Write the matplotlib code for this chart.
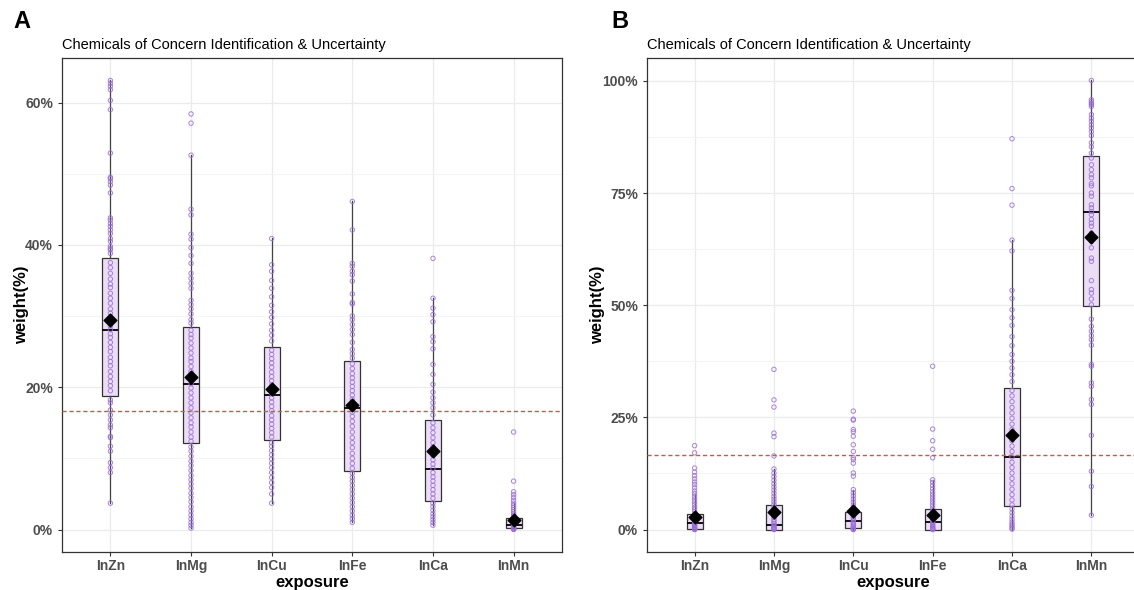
import matplotlib
matplotlib.use('Agg')
import matplotlib.pyplot as plt
from matplotlib.ticker import FuncFormatter, MultipleLocator

plt.rcParams['font.family'] = ['Liberation Sans', 'DejaVu Sans']

exposures = ['InZn', 'InMg', 'InCu', 'InFe', 'InCa', 'InMn']
ref_line = 100 / 6  # equal weight

# ---- panel A: box stats (weight %) ----
a_q1 = [18.8, 12.1, 12.6, 8.2, 4.0, 0.2]
a_med = [28.1, 20.5, 18.9, 17.1, 8.5, 0.7]
a_q3 = [38.2, 28.4, 25.7, 23.7, 15.4, 1.6]
a_wlo = [3.7, 0.2, 3.7, 1.0, 0.6, 0.0]
a_whi = [63.1, 52.6, 40.9, 46.1, 32.5, 3.7]
a_mean = [29.4, 21.4, 19.7, 17.5, 11.0, 1.4]

a_zn = [63.1, 62.7, 62.3, 61.8, 60.3, 59.0, 52.9, 49.5, 49.3, 48.9, 48.4, 47.3, 43.8, 43.5,
        43.0, 42.6, 42.1, 41.6, 40.9, 40.5, 39.8, 39.5, 39.3, 38.8,
        37.5, 36.8, 36.0, 35.2, 34.5, 34.0, 33.2, 32.5, 31.8, 31.0, 30.4, 29.8, 29.2, 28.6,
        28.1, 27.5, 27.0, 26.3, 25.6, 25.0, 24.2, 23.6, 23.0, 22.2, 21.5, 20.8, 20.2, 19.5,
        18.2, 17.8, 16.8, 16.1, 15.4, 14.7, 14.3, 13.1, 12.9, 11.7, 11.0, 9.4, 8.7, 8.0, 3.7]
a_mg = [58.4, 57.1, 52.6, 45.0, 44.2, 41.5, 40.8, 39.6, 38.5, 37.4, 36.0, 35.3, 34.6, 33.9,
        32.2, 31.6, 31.0, 30.3, 29.5, 29.0,
        28.0, 27.4, 26.9, 26.2, 25.5, 24.8, 24.1, 23.6, 22.9, 22.2, 21.6, 21.0, 20.5, 19.9,
        19.2, 18.5, 17.8, 17.1, 16.4, 15.7, 15.0, 14.4, 13.7, 13.0, 12.4,
        11.6, 11.0, 10.3, 9.6, 9.0, 8.3, 7.6, 7.0, 6.4, 5.8, 5.1, 4.5, 3.9, 3.2, 2.6, 2.0,
        1.5, 1.0, 0.6, 0.2]
a_cu = [40.9, 37.2, 36.3, 35.0, 33.9, 32.7, 31.5, 30.6, 29.8, 28.9, 28.0, 27.3, 26.5,
        25.2, 24.6, 24.0, 23.4, 22.8, 22.1, 21.5, 20.9, 20.3, 19.7, 19.1, 18.5, 17.9, 17.3,
        16.7, 16.0, 15.4, 14.8, 14.2, 13.6, 13.0,
        12.2, 11.7, 11.1, 10.5, 9.9, 9.3, 8.7, 8.0, 7.3, 6.6, 5.9, 5.0, 3.7]
a_fe = [46.1, 42.1, 37.4, 37.0, 36.3, 35.8, 34.9, 33.1, 31.9, 31.7, 30.0, 29.5, 28.8, 28.1,
        27.4, 26.3, 25.3, 24.7, 24.1,
        23.3, 22.6, 21.9, 21.3, 20.7, 20.1, 19.5, 18.9, 18.3, 17.7, 17.1, 16.5, 15.9, 15.2,
        14.5, 13.7, 12.9, 12.2, 11.5, 10.7, 10.0, 9.3, 8.6,
        7.9, 7.3, 6.8, 6.2, 5.6, 5.0, 4.4, 3.8, 3.2, 2.6, 2.0, 1.5, 1.0]
a_ca = [38.1, 32.5, 31.1, 30.2, 29.2, 27.1, 26.4, 25.4, 23.2, 21.8, 20.4, 19.3, 18.5, 17.8,
        17.1, 16.1,
        15.0, 14.3, 13.6, 12.9, 12.2, 11.6, 11.0, 10.4, 9.8, 9.2, 8.6, 8.0, 7.4, 6.8, 6.2,
        5.6, 5.0, 4.4,
        3.7, 3.2, 2.7, 2.2, 1.8, 1.4, 1.0, 0.6]
a_mn = [13.7, 6.8, 5.3, 4.9, 4.5, 4.1, 3.7, 3.4, 3.1, 2.8, 2.5, 2.2, 2.0, 1.8, 1.6, 1.4,
        1.2, 1.0, 0.9, 0.8, 0.7, 0.6, 0.5, 0.4, 0.3, 0.2, 0.1, 0.05, 0.0]
a_points = [a_zn, a_mg, a_cu, a_fe, a_ca, a_mn]

# ---- panel B ----
b_q1 = [0.07, 0.0, 0.4, 0.0, 5.3, 49.8]
b_med = [1.4, 1.0, 2.0, 1.6, 16.2, 70.8]
b_q3 = [3.4, 5.5, 4.0, 4.5, 31.6, 83.2]
b_wlo = [0.0, 0.0, 0.0, 0.0, 0.0, 3.2]
b_whi = [8.0, 13.5, 8.9, 11.1, 64.5, 100.1]
b_mean = [2.8, 3.9, 4.2, 3.3, 21.0, 65.3]

b_zn = [18.7, 17.1, 13.7, 12.8, 12.0, 11.3, 10.6, 10.0, 9.3, 8.6, 8.0, 7.4, 6.8, 6.2, 5.6,
        5.0, 4.5, 4.0, 3.5, 3.1, 2.7, 2.3, 2.0, 1.7, 1.4, 1.1, 0.9, 0.7, 0.5, 0.3, 0.2, 0.1,
        0.05, 0.0]
b_mg = [35.7, 28.9, 27.3, 21.5, 20.7, 16.4, 13.5, 12.6, 11.8, 11.0, 10.2, 9.5, 8.8, 8.1,
        7.4, 6.8, 6.2, 5.6, 5.0, 4.4, 3.8, 3.2, 2.7, 2.2, 1.8, 1.4, 1.0, 0.7, 0.5, 0.3, 0.2,
        0.1, 0.0]
b_cu = [26.4, 24.6, 24.4, 22.3, 21.8, 20.8, 18.9, 17.4, 16.0, 15.6, 14.8, 12.6, 11.9, 8.9,
        8.2, 7.5, 6.8, 6.1, 5.5, 4.9, 4.3, 3.7, 3.2, 2.8, 2.4, 2.0, 1.6, 1.3, 1.0, 0.7, 0.4,
        0.2, 0.1, 0.0]
b_fe = [36.4, 22.4, 19.8, 17.9, 16.0, 11.1, 10.5, 9.8, 9.1, 8.4, 7.8, 7.2, 6.6, 6.0, 5.4,
        4.8, 4.2, 3.7, 3.2, 2.7, 2.3, 1.9, 1.6, 1.3, 1.0, 0.7, 0.5, 0.3, 0.2, 0.1, 0.0]
b_ca = [87.1, 76.0, 72.3, 64.5, 62.1, 53.3, 51.5, 49.0, 47.2, 45.5, 43.0, 41.0, 39.0, 37.5,
        36.0, 34.5, 33.0, 31.0, 29.8, 28.5, 27.2, 26.0, 24.8, 23.5, 22.3, 21.0, 19.8, 18.6,
        17.4, 16.2, 15.0, 13.8, 12.6, 11.4, 10.2, 9.0, 7.8, 6.6, 5.5, 4.6, 3.8, 3.0, 2.3,
        1.7, 1.2, 0.8, 0.4, 0.1]
b_mn = [100.1, 95.8, 95.4, 95.0, 94.7, 94.3, 92.5, 91.7, 91.0, 90.2, 89.5, 88.7, 87.8,
        86.2, 85.3, 83.9, 82.8, 81.3, 80.2, 79.1, 78.4, 77.1, 76.6, 75.0, 74.3, 72.4, 71.7,
        70.9, 70.2, 69.1, 68.3, 67.6, 66.1, 64.2, 62.8, 60.5, 59.8, 55.5, 53.5, 52.7, 51.4,
        50.1, 46.9, 45.3, 44.2, 43.2, 42.3, 41.1, 36.8, 36.4, 32.7, 31.9, 29.0, 27.9, 21.0,
        13.0, 9.6, 3.2]
b_points = [b_zn, b_mg, b_cu, b_fe, b_ca, b_mn]

PURPLE = '#9B6FD6'
BOXFILL = '#EBDDF5'
EDGE = '#333333'


def draw_panel(ax, q1, med, q3, wlo, whi, mean, points, ylim, ystep, ylab_x):
    pos = list(range(1, len(exposures) + 1))
    stats = []
    for i in range(len(exposures)):
        stats.append({'q1': q1[i], 'med': med[i], 'q3': q3[i],
                      'whislo': wlo[i], 'whishi': whi[i], 'fliers': []})
    ax.bxp(stats, positions=pos, widths=0.2, patch_artist=True, showcaps=False,
           showfliers=False,
           boxprops=dict(facecolor=BOXFILL, edgecolor=EDGE, linewidth=0.9),
           whiskerprops=dict(color='#444444', linewidth=0.9),
           medianprops=dict(color='black', linewidth=1.3),
           zorder=2)
    for p, vals in zip(pos, points):
        ax.scatter([p] * len(vals), vals, s=10, facecolors='none', edgecolors=PURPLE,
                   linewidths=0.7, alpha=0.85, zorder=3)
    ax.scatter(pos, mean, marker='D', s=42, color='black', zorder=4)
    ax.axhline(ref_line, color='#C55A55', linestyle=(0, (3, 2)), linewidth=1.0, zorder=3)

    ax.set_xlim(0.4, 6.6)
    ax.set_ylim(*ylim)
    ax.set_xticks(pos)
    ax.set_xticklabels(exposures)
    ax.yaxis.set_major_locator(MultipleLocator(ystep))
    ax.yaxis.set_minor_locator(MultipleLocator(ystep / 2))
    ax.yaxis.set_major_formatter(FuncFormatter(lambda v, _: f'{v:.0f}%'))
    ax.grid(which='major', color='#EBEBEB', linewidth=0.9, zorder=0)
    ax.grid(which='minor', axis='y', color='#F2F2F2', linewidth=0.6, zorder=0)
    ax.set_axisbelow(True)
    ax.tick_params(axis='both', which='major', length=3, color='#333333',
                   labelcolor='#4D4D4D', labelsize=10)
    ax.tick_params(axis='x', which='major', pad=2)
    ax.tick_params(axis='y', which='minor', length=0)
    for lab in ax.get_xticklabels() + ax.get_yticklabels():
        lab.set_fontweight('bold')
    for s in ax.spines.values():
        s.set_color('#333333')
        s.set_linewidth(0.9)
    ax.set_xlabel('exposure', fontsize=12, fontweight='bold', va='center')
    ax.xaxis.set_label_coords(0.5, -30 / 494)
    ax.set_ylabel('weight(%)', fontsize=12, fontweight='bold', va='center')
    ax.yaxis.set_label_coords(ylab_x, 0.5)


fig = plt.figure(figsize=(11.34, 5.9), dpi=100)
ax1 = fig.add_axes([62 / 1134, 38 / 590, 500 / 1134, 494 / 590])
ax2 = fig.add_axes([647 / 1134, 38 / 590, 492 / 1134, 494 / 590])

draw_panel(ax1, a_q1, a_med, a_q3, a_wlo, a_whi, a_mean, a_points, (-3.16, 66.26), 20,
           (22 - 62) / 500)
draw_panel(ax2, b_q1, b_med, b_q3, b_wlo, b_whi, b_mean, b_points, (-5.0, 105.1), 25,
           (598 - 647) / 492)

for x in (62, 647):
    fig.text(x / 1134, 1 - 45 / 590, 'Chemicals of Concern Identification & Uncertainty',
             fontsize=10.5, va='center', ha='left')
fig.text(22 / 1134, 1 - 22 / 590, 'A', fontsize=17, fontweight='bold', va='center', ha='center')
fig.text(620 / 1134, 1 - 22 / 590, 'B', fontsize=17, fontweight='bold', va='center', ha='center')

fig.savefig('out.png', dpi=100)
